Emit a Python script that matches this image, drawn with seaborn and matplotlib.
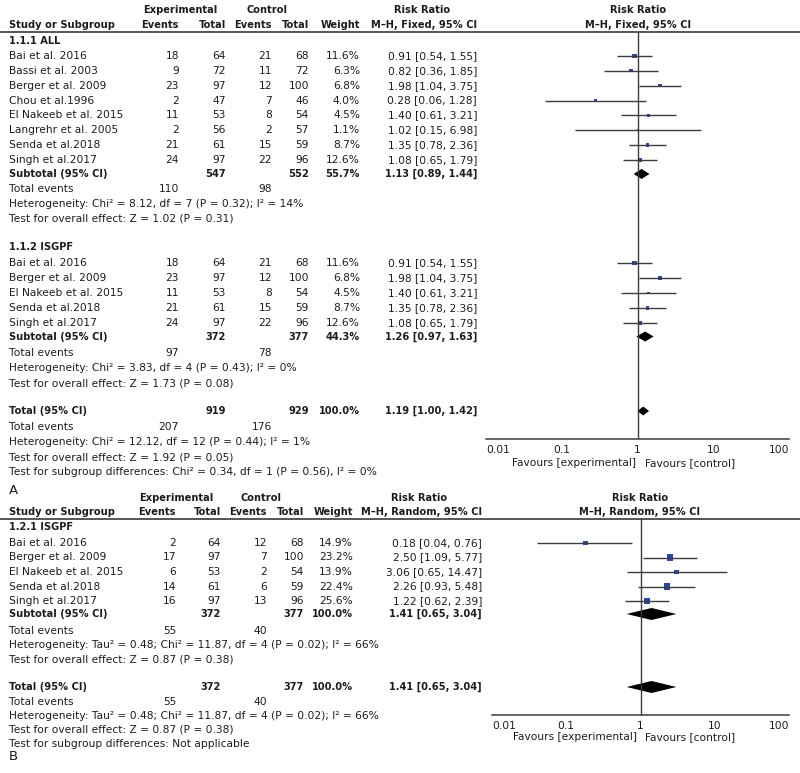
import matplotlib
matplotlib.use("Agg")
import matplotlib.pyplot as plt
import seaborn as sns
import numpy as np

# ---------------- panel A data (M-H, Fixed) ----------------
groups_a = ["1.1.1 ALL", "1.1.2 ISGPF"]

studies_a1 = ["Bai et al. 2016", "Bassi et al. 2003", "Berger et al. 2009", "Chou et al.1996",
              "El Nakeeb et al. 2015", "Langrehr et al. 2005", "Senda et al.2018", "Singh et al.2017"]
ev_exp_a1 = [18, 9, 23, 2, 11, 2, 21, 24]
tot_exp_a1 = [64, 72, 97, 47, 53, 56, 61, 97]
ev_ctl_a1 = [21, 11, 12, 7, 8, 2, 15, 22]
tot_ctl_a1 = [68, 72, 100, 46, 54, 57, 59, 96]
weight_a1 = [11.6, 6.3, 6.8, 4.0, 4.5, 1.1, 8.7, 12.6]
rr_a1 = [0.91, 0.82, 1.98, 0.28, 1.40, 1.02, 1.35, 1.08]
lo_a1 = [0.54, 0.36, 1.04, 0.06, 0.61, 0.15, 0.78, 0.65]
hi_a1 = [1.55, 1.85, 3.75, 1.28, 3.21, 6.98, 2.36, 1.79]

studies_a2 = ["Bai et al. 2016", "Berger et al. 2009", "El Nakeeb et al. 2015",
              "Senda et al.2018", "Singh et al.2017"]
ev_exp_a2 = [18, 23, 11, 21, 24]
tot_exp_a2 = [64, 97, 53, 61, 97]
ev_ctl_a2 = [21, 12, 8, 15, 22]
tot_ctl_a2 = [68, 100, 54, 59, 96]
weight_a2 = [11.6, 6.8, 4.5, 8.7, 12.6]
rr_a2 = [0.91, 1.98, 1.40, 1.35, 1.08]
lo_a2 = [0.54, 1.04, 0.61, 0.78, 0.65]
hi_a2 = [1.55, 3.75, 3.21, 2.36, 1.79]

# subtotals / total: n_exp, n_ctl, weight, rr, lo, hi, events_exp, events_ctl
sub_a1 = [547, 552, 55.7, 1.13, 0.89, 1.44, 110, 98]
sub_a2 = [372, 377, 44.3, 1.26, 0.97, 1.63, 97, 78]
total_a = [919, 929, 100.0, 1.19, 1.00, 1.42, 207, 176]
het_a = ["Heterogeneity: Chi² = 8.12, df = 7 (P = 0.32); I² = 14%",
         "Heterogeneity: Chi² = 3.83, df = 4 (P = 0.43); I² = 0%",
         "Heterogeneity: Chi² = 12.12, df = 12 (P = 0.44); I² = 1%"]
z_a = ["Test for overall effect: Z = 1.02 (P = 0.31)",
       "Test for overall effect: Z = 1.73 (P = 0.08)",
       "Test for overall effect: Z = 1.92 (P = 0.05)"]
subgroup_a = "Test for subgroup differences: Chi² = 0.34, df = 1 (P = 0.56), I² = 0%"

# ---------------- panel B data (M-H, Random) ----------------
groups_b = ["1.2.1 ISGPF"]
studies_b = ["Bai et al. 2016", "Berger et al. 2009", "El Nakeeb et al. 2015",
             "Senda et al.2018", "Singh et al.2017"]
ev_exp_b = [2, 17, 6, 14, 16]
tot_exp_b = [64, 97, 53, 61, 97]
ev_ctl_b = [12, 7, 2, 6, 13]
tot_ctl_b = [68, 100, 54, 59, 96]
weight_b = [14.9, 23.2, 13.9, 22.4, 25.6]
rr_b = [0.18, 2.50, 3.06, 2.26, 1.22]
lo_b = [0.04, 1.09, 0.65, 0.93, 0.62]
hi_b = [0.76, 5.77, 14.47, 5.48, 2.39]
sub_b = [372, 377, 100.0, 1.41, 0.65, 3.04, 55, 40]
total_b = [372, 377, 100.0, 1.41, 0.65, 3.04, 55, 40]
het_b = "Heterogeneity: Tau² = 0.48; Chi² = 11.87, df = 4 (P = 0.02); I² = 66%"
z_b = "Test for overall effect: Z = 0.87 (P = 0.38)"
subgroup_b = "Test for subgroup differences: Not applicable"

ticks = [0.01, 0.1, 1, 10, 100]
tick_labels = ["0.01", "0.1", "1", "10", "100"]

sns.set_style("white")
plt.rcParams["font.family"] = ["DejaVu Sans"]
FS = 7.7      # regular text
FSB = 7.1     # bold text (DejaVu bold is wide)
TXT = "#1c1c1c"
LN = "#3c3c3c"
SQ = "#2c46a6"

fig = plt.figure(figsize=(8, 7.73), dpi=100)
bg = fig.add_axes([0, 0, 1, 1])
bg.set_xlim(0, 800)
bg.set_ylim(773, 0)
bg.axis("off")


def txt(x, y, s, ha="left", bold=False, size=None):
    if size is None:
        size = FSB if bold else FS
    bg.text(x, y, s, ha=ha, va="center", fontsize=size, color=TXT,
            fontweight="bold" if bold else "normal")


def table_row(y, name, vals, cols, bold=False):
    txt(9, y, name, bold=bold)
    for v, x in zip(vals, cols):
        if v != "":
            txt(x, y, v, ha="right", bold=bold)


def fmt_rr(r, l, h):
    return f"{r:.2f} [{l:.2f}, {h:.2f}]"


def forest_axes(x0, x1, y0, y1):
    ax = fig.add_axes([x0 / 800, 1 - y1 / 773, (x1 - x0) / 800, (y1 - y0) / 773])
    ax.set_xscale("log")
    ax.patch.set_alpha(0)
    for s in ["top", "right", "left"]:
        ax.spines[s].set_visible(False)
    ax.spines["bottom"].set_color(LN)
    ax.spines["bottom"].set_linewidth(1.1)
    ax.set_yticks([])
    ax.axvline(1, color=LN, lw=1)
    return ax


def finish_axes(ax, y0, y1):
    ax.set_xlim(0.01, 100)
    ax.set_ylim(y1, y0)
    ax.set_xticks(ticks)
    ax.set_xticklabels(tick_labels)
    ax.minorticks_off()
    ax.tick_params(axis="x", direction="inout", length=6, width=1, colors=LN,
                   labelsize=FS, labelcolor=TXT, pad=1)
    labs = ax.get_xticklabels()
    labs[0].set_ha("left")
    labs[-1].set_ha("right")
    ax.set_xlabel("")
    ax.set_ylabel("")


def diamond(ax, y, est, lo, hi, h):
    ax.fill([lo, est, hi, est], [y, y - h, y, y + h], color="black", lw=0)


def studies_block(ax, y_start, step, names, e1, n1, e2, n2, w, rr, lo, hi, cols, sizes, wrange):
    ys = y_start + step * np.arange(len(names))
    for i, nm in enumerate(names):
        table_row(ys[i], nm, [str(e1[i]), str(n1[i]), str(e2[i]), str(n2[i]),
                              f"{w[i]:.1f}%", fmt_rr(rr[i], lo[i], hi[i])], cols)
    ax.hlines(ys, lo, hi, color=LN, lw=1)
    sns.scatterplot(x=rr, y=ys, size=w, sizes=sizes, size_norm=wrange, marker="s",
                    color=SQ, linewidth=0, legend=False, ax=ax)
    return ys


def summary_row(ax, y, label, s, cols, h):
    table_row(y, label, ["", str(s[0]), "", str(s[1]), f"{s[2]:.1f}%",
                         fmt_rr(s[3], s[4], s[5])], cols, bold=True)
    diamond(ax, y, s[3], s[4], s[5], h)


def events_row(y, s, ev_cols):
    txt(9, y, "Total events")
    txt(ev_cols[0], y, str(s[6]), ha="right")
    txt(ev_cols[1], y, str(s[7]), ha="right")


# ================= Panel A =================
cols_a = [179, 226, 272, 309, 360, 477]
txt(180, 10, "Experimental", ha="center", bold=True)
txt(267, 10, "Control", ha="center", bold=True)
txt(422, 10, "Risk Ratio", ha="center", bold=True)
txt(638, 10, "Risk Ratio", ha="center", bold=True)
table_row(25, "Study or Subgroup", ["Events", "Total", "Events", "Total", "Weight",
                                    "M–H, Fixed, 95% CI"], cols_a, bold=True)
txt(638, 25, "M–H, Fixed, 95% CI", ha="center", bold=True)
bg.plot([0, 800], [32, 32], color="#555555", lw=1.4)

ax_a = forest_axes(486, 789, 32, 439)
wr_a = (min(weight_a1 + weight_a2), max(weight_a1 + weight_a2))

txt(9, 41, groups_a[0], bold=True)
ys = studies_block(ax_a, 56, 14.85, studies_a1, ev_exp_a1, tot_exp_a1, ev_ctl_a1, tot_ctl_a1,
                   weight_a1, rr_a1, lo_a1, hi_a1, cols_a, (1.5, 10), wr_a)
y = ys[-1] + 14
summary_row(ax_a, y, "Subtotal (95% CI)", sub_a1, cols_a, 5)
events_row(y + 15.5, sub_a1, [179, 272])
txt(9, y + 30.5, het_a[0])
txt(9, y + 45, z_a[0])

txt(9, 247, groups_a[1], bold=True)
ys = studies_block(ax_a, 263, 15, studies_a2, ev_exp_a2, tot_exp_a2, ev_ctl_a2, tot_ctl_a2,
                   weight_a2, rr_a2, lo_a2, hi_a2, cols_a, (1.5, 10), wr_a)
y = ys[-1] + 13.5
summary_row(ax_a, y, "Subtotal (95% CI)", sub_a2, cols_a, 5)
events_row(y + 16.5, sub_a2, [179, 272])
txt(9, y + 31.5, het_a[1])
txt(9, y + 46.5, z_a[1])

y = 411
summary_row(ax_a, y, "Total (95% CI)", total_a, cols_a, 4.5)
events_row(y + 16.5, total_a, [179, 272])
txt(9, y + 31, het_a[2])
txt(9, y + 46, z_a[2])
txt(9, y + 61, subgroup_a)
finish_axes(ax_a, 32, 439)
txt(636, 463, "Favours [experimental]", ha="right")
txt(645, 463, "Favours [control]")
txt(9, 490, "A", size=9.5)

# ================= Panel B =================
cols_b = [176, 221, 267, 304, 353, 482]
txt(176, 498, "Experimental", ha="center", bold=True)
txt(261, 498, "Control", ha="center", bold=True)
txt(419, 498, "Risk Ratio", ha="center", bold=True)
txt(640, 498, "Risk Ratio", ha="center", bold=True)
table_row(512, "Study or Subgroup", ["Events", "Total", "Events", "Total", "Weight",
                                     "M–H, Random, 95% CI"], cols_b, bold=True)
txt(640, 512, "M–H, Random, 95% CI", ha="center", bold=True)
bg.plot([0, 800], [519, 519], color="#555555", lw=1.4)

ax_b = forest_axes(492, 789, 519, 715)
txt(9, 527, groups_b[0], bold=True)
ys = studies_block(ax_b, 543, 14.5, studies_b, ev_exp_b, tot_exp_b, ev_ctl_b, tot_ctl_b,
                   weight_b, rr_b, lo_b, hi_b, cols_b, (11, 24), (min(weight_b), max(weight_b)))
y = ys[-1] + 13
summary_row(ax_b, y, "Subtotal (95% CI)", sub_b, cols_b, 6)
events_row(y + 16.5, sub_b, [176, 267])
txt(9, y + 31, het_b)
txt(9, y + 45, z_b)

y = 687
summary_row(ax_b, y, "Total (95% CI)", total_b, cols_b, 6)
events_row(y + 15, total_b, [176, 267])
txt(9, y + 29, het_b)
txt(9, y + 43, z_b)
txt(9, y + 57, subgroup_b)
finish_axes(ax_b, 519, 715)
txt(637, 737, "Favours [experimental]", ha="right")
txt(645, 737, "Favours [control]")
txt(9, 757, "B", size=9.5)

fig.savefig("out.png", dpi=100, facecolor="white")
